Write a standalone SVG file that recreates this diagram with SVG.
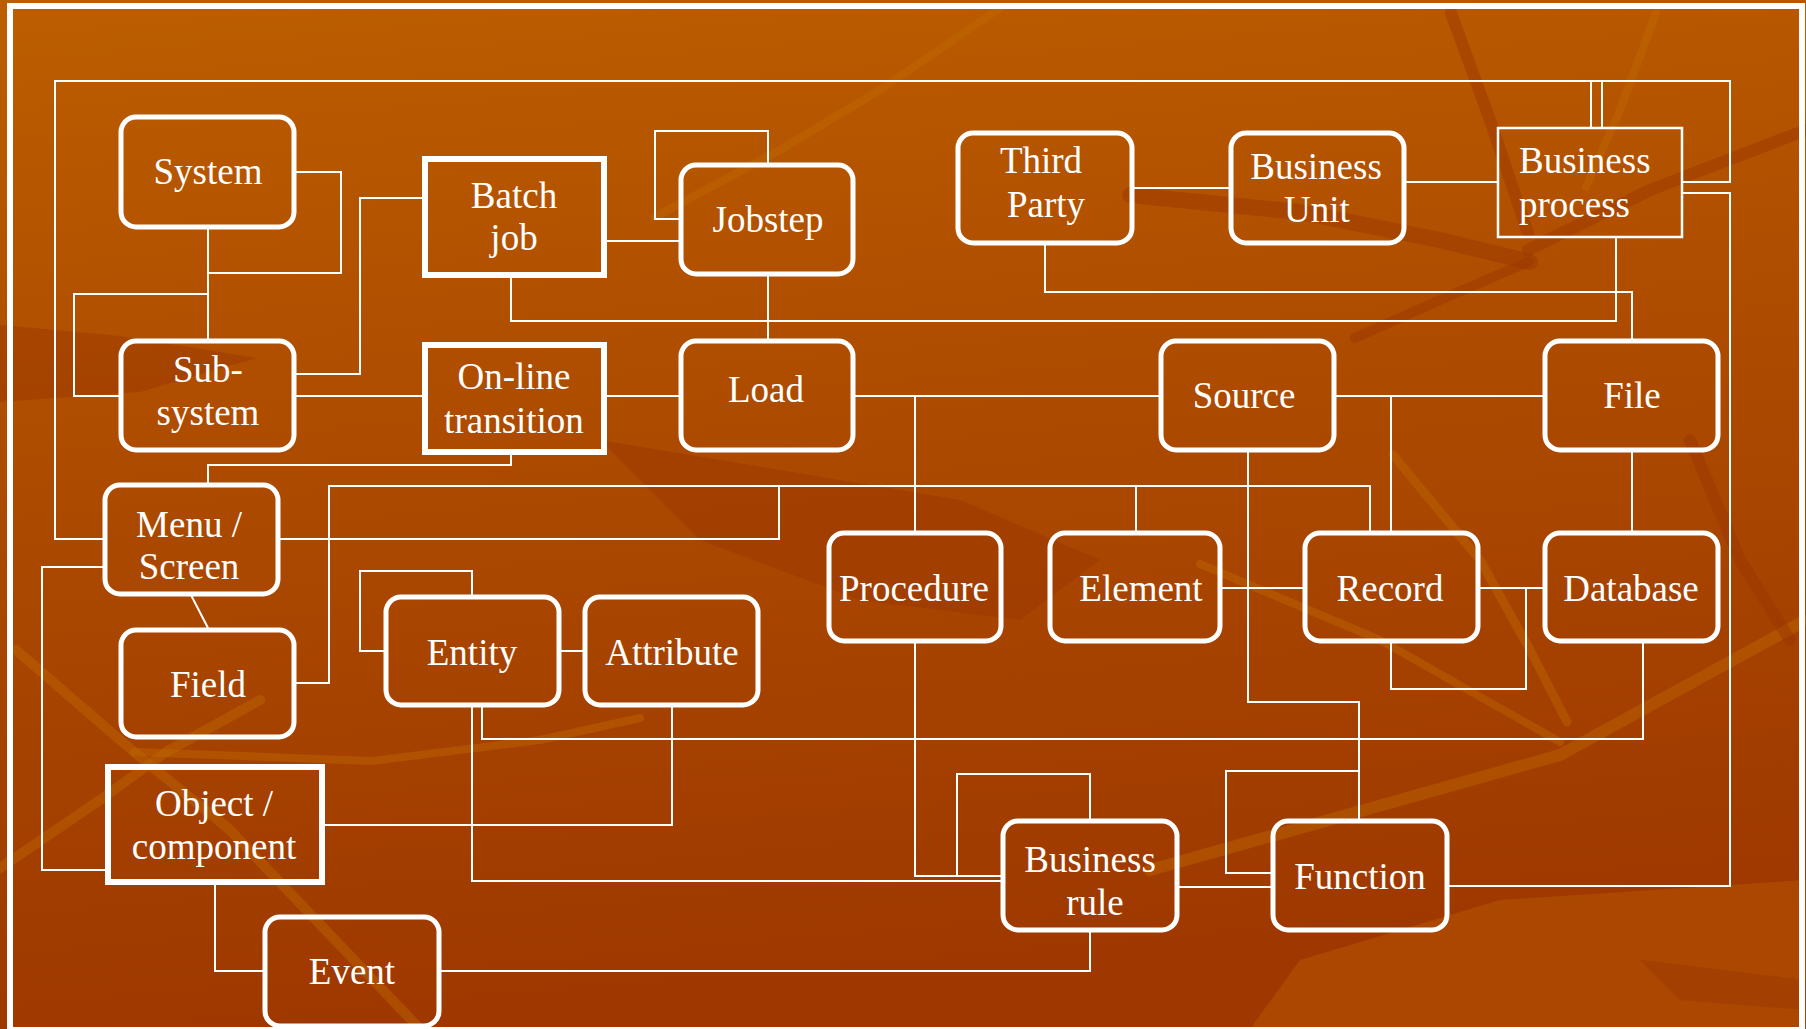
<svg xmlns="http://www.w3.org/2000/svg" width="1806" height="1029" viewBox="0 0 1806 1029">
  <defs>
    <linearGradient id="bg" x1="0" y1="0" x2="0.15" y2="1">
      <stop offset="0" stop-color="#BC5E00"/>
      <stop offset="0.45" stop-color="#AD4B00"/>
      <stop offset="1" stop-color="#9E3800"/>
    </linearGradient>
    <style>
      .node { fill: none; stroke: #FFFFFF; stroke-width: 5; }
      .sq { fill: none; stroke: #FFFFFF; stroke-width: 6; }
      .thin { fill: none; stroke: #FFFFFF; stroke-width: 2.5; }
      .link { fill: none; stroke: #FFFFFF; stroke-width: 2; }
      .lbl { font-family: "Liberation Serif", "Times New Roman", serif; font-size: 37px; fill: #FFFFFF; text-anchor: middle; }
      .left { text-anchor: start; }
      .dark { fill: #9A3500; opacity: 0.45; }
      .lite { fill: #BA5C00; opacity: 0.45; }
      .vein { fill: none; stroke: #C06C00; stroke-linecap: round; stroke-linejoin: round; opacity: 0.4; }
      .dvein { fill: none; stroke: #9A3600; stroke-linecap: round; stroke-linejoin: round; opacity: 0.45; }
    </style>
  </defs>

  <!-- background -->
  <rect x="0" y="0" width="1806" height="1029" fill="url(#bg)"/>
  <g id="backdrop">
    <polygon class="dark" points="0,325 120,336 257,358 140,392 0,402"/>
    <polyline class="dvein" stroke-width="16" points="1130,195 1300,212 1440,240 1530,262"/>
    <polygon class="dark" points="600,440 780,470 960,500 1100,560 1020,620 860,600 700,540"/>
    <polygon class="lite" points="1300,960 1500,900 1806,880 1806,1029 1250,1029"/>
    <polygon class="dark" points="1640,960 1806,980 1806,1010 1680,1000"/>
    <polyline class="vein" stroke-width="8" points="655,217 780,150 880,90 1000,8"/>
    <polyline class="vein" stroke-width="9" points="1393,455 1480,560 1530,650 1567,722"/>
    <polyline class="vein" stroke-width="8" points="1200,564 1380,640 1560,742"/>
    <polyline class="vein" stroke-width="12" points="1150,870 1400,800 1560,755 1806,620"/>
    <polyline class="vein" stroke-width="10" points="16,650 134,752 230,830 420,1029"/>
    <polyline class="vein" stroke-width="10" points="0,868 100,800 166,752 260,700"/>
    <polyline class="vein" stroke-width="8" points="134,752 372,761 540,740 640,718"/>
    <polyline class="dvein" stroke-width="12" points="1451,13 1490,120 1528,233"/>
    <polyline class="dvein" stroke-width="12" points="1528,250 1650,190 1806,130"/>
    <polyline class="dvein" stroke-width="10" points="1528,262 1440,300 1355,338"/>
    <polyline class="vein" stroke-width="8" points="1656,13 1620,110 1586,187"/>
    <polyline class="dvein" stroke-width="12" points="1690,440 1740,560 1790,640"/>
  </g>

  <!-- frame -->
  <rect x="10" y="6" width="1792" height="1024" fill="none" stroke="#FFFFFF" stroke-width="6"/>

  <!-- connectors -->
  <g id="connectors" class="link">
    <path d="M294,172 H341 V273 H208"/>
    <path d="M208,227 V341"/>
    <path d="M208,294 H74 V396 H121"/>
    <path d="M294,374 H360 V198 H425"/>
    <path d="M294,396 H425"/>
    <path d="M605,241 H681"/>
    <path d="M768,165 V131 H655 V219 H681"/>
    <path d="M768,274 V341"/>
    <path d="M511,275 V321 H1616 V237"/>
    <path d="M1132,188 H1231"/>
    <path d="M1404,182 H1498"/>
    <path d="M1045,243 V292 H1632 V341"/>
    <path d="M604,396 H681"/>
    <path d="M853,396 H1161"/>
    <path d="M915,396 V533"/>
    <path d="M1334,396 H1545"/>
    <path d="M1391,396 V533"/>
    <path d="M511,452 V465 H208 V485"/>
    <path d="M105,539 H55 V81 H1591 V128"/>
    <path d="M1591,81 H1602"/>
    <path d="M1602,128 V81 H1730 V182 H1682"/>
    <path d="M1682,193 H1730 V886 H1447"/>
    <path d="M278,539 H779 V486"/>
    <path d="M294,683 H329 V486 H1370 V533"/>
    <path d="M1136,486 V533"/>
    <path d="M105,567 H42 V870 H108"/>
    <path d="M191,595 L208,628"/>
    <path d="M472,597 V571 H360 V651 H386"/>
    <path d="M559,651 H585"/>
    <path d="M482,705 V739 H1643 V641"/>
    <path d="M472,705 V881 H1003"/>
    <path d="M672,705 V825 H322"/>
    <path d="M215,882 V971 H265"/>
    <path d="M439,971 H1090 V930"/>
    <path d="M915,641 V876 H957"/>
    <path d="M1090,821 V774 H957 V876 H1003"/>
    <path d="M1219,588 H1305"/>
    <path d="M1478,588 H1545"/>
    <path d="M1526,588 V689 H1391 V641"/>
    <path d="M1632,450 V533"/>
    <path d="M1248,450 V702 H1359 V821"/>
    <path d="M1359,771 H1226 V873 H1273"/>
    <path d="M1177,887 H1273"/>
  </g>

  <!-- nodes -->
  <g id="system"><rect class="node" x="121" y="117" width="173" height="110" rx="15"/><text class="lbl" x="208" y="184">System</text></g>
  <g id="subsystem"><rect class="node" x="121" y="341" width="173" height="109" rx="15"/><text class="lbl" x="208" y="382">Sub-</text><text class="lbl" x="208" y="425">system</text></g>
  <g id="batch-job"><rect class="sq" x="425" y="159" width="179" height="116"/><text class="lbl" x="514" y="208">Batch</text><text class="lbl" x="514" y="250">job</text></g>
  <g id="online-transition"><rect class="sq" x="425" y="345" width="179" height="107"/><text class="lbl" x="514" y="389">On-line</text><text class="lbl" x="514" y="433">transition</text></g>
  <g id="jobstep"><rect class="node" x="681" y="165" width="172" height="109" rx="15"/><text class="lbl" x="768" y="232">Jobstep</text></g>
  <g id="load"><rect class="node" x="681" y="341" width="172" height="109" rx="15"/><text class="lbl" x="766" y="402">Load</text></g>
  <g id="third-party"><rect class="node" x="958" y="133" width="174" height="110" rx="15"/><text class="lbl" x="1041" y="173">Third</text><text class="lbl" x="1046" y="217">Party</text></g>
  <g id="business-unit"><rect class="node" x="1231" y="133" width="173" height="110" rx="15"/><text class="lbl" x="1316" y="179">Business</text><text class="lbl" x="1317" y="222">Unit</text></g>
  <g id="business-process"><rect class="thin" x="1498" y="128" width="184" height="109"/><text class="lbl left" x="1519" y="173">Business</text><text class="lbl left" x="1519" y="217">process</text></g>
  <g id="source"><rect class="node" x="1161" y="341" width="173" height="109" rx="15"/><text class="lbl" x="1244" y="408">Source</text></g>
  <g id="file"><rect class="node" x="1545" y="341" width="173" height="109" rx="15"/><text class="lbl" x="1632" y="408">File</text></g>
  <g id="menu-screen"><rect class="node" x="105" y="485" width="173" height="109" rx="15"/><text class="lbl" x="189" y="537">Menu /</text><text class="lbl" x="189" y="579">Screen</text></g>
  <g id="procedure"><rect class="node" x="829" y="533" width="172" height="108" rx="15"/><text class="lbl" x="914" y="601">Procedure</text></g>
  <g id="element"><rect class="node" x="1050" y="533" width="170" height="108" rx="15"/><text class="lbl" x="1141" y="601">Element</text></g>
  <g id="record"><rect class="node" x="1305" y="533" width="173" height="108" rx="15"/><text class="lbl" x="1390" y="601">Record</text></g>
  <g id="database"><rect class="node" x="1545" y="533" width="173" height="108" rx="15"/><text class="lbl" x="1631" y="601">Database</text></g>
  <g id="field"><rect class="node" x="121" y="630" width="173" height="107" rx="15"/><text class="lbl" x="208" y="697">Field</text></g>
  <g id="entity"><rect class="node" x="386" y="597" width="173" height="108" rx="15"/><text class="lbl" x="472" y="665">Entity</text></g>
  <g id="attribute"><rect class="node" x="585" y="597" width="173" height="108" rx="15"/><text class="lbl" x="672" y="665">Attribute</text></g>
  <g id="object-component"><rect class="sq" x="108" y="767" width="214" height="115"/><text class="lbl" x="214" y="816">Object /</text><text class="lbl" x="214" y="859">component</text></g>
  <g id="business-rule"><rect class="node" x="1003" y="821" width="174" height="109" rx="15"/><text class="lbl" x="1090" y="872">Business</text><text class="lbl" x="1095" y="915">rule</text></g>
  <g id="function"><rect class="node" x="1273" y="821" width="174" height="109" rx="15"/><text class="lbl" x="1360" y="889">Function</text></g>
  <g id="event"><rect class="node" x="265" y="917" width="174" height="109" rx="15"/><text class="lbl" x="352" y="984">Event</text></g>
</svg>
